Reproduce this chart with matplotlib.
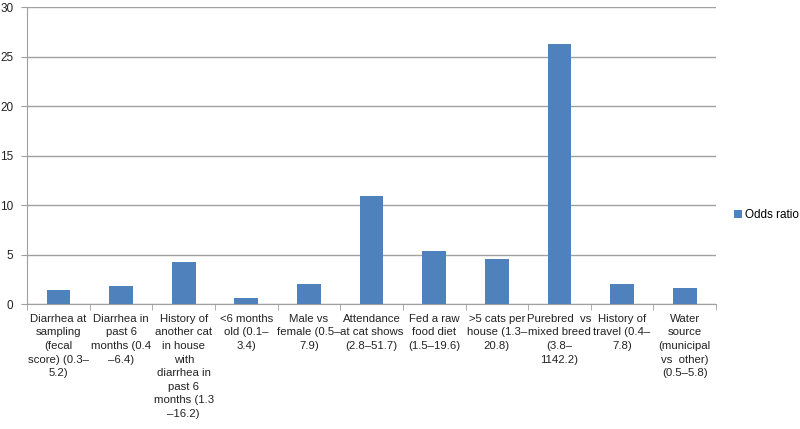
import matplotlib
matplotlib.use("Agg")
import matplotlib.pyplot as plt
import numpy as np

plt.rcParams["font.family"] = ["Liberation Sans", "DejaVu Sans"]

categories = [
    "Diarrhea at\nsampling\n(fecal\nscore) (0.3–\n5.2)",
    "Diarrhea in\npast 6\nmonths (0.4\n–6.4)",
    "History of\nanother cat\nin house\nwith\ndiarrhea in\npast 6\nmonths (1.3\n–16.2)",
    "<6 months\nold (0.1–\n3.4)",
    "Male vs\nfemale (0.5–\n7.9)",
    "Attendance\nat cat shows\n(2.8–51.7)",
    "Fed a raw\nfood diet\n(1.5–19.6)",
    ">5 cats per\nhouse (1.3–\n20.8)",
    "Purebred  vs\nmixed breed\n(3.8–\n1142.2)",
    "History of\ntravel (0.4–\n7.8)",
    "Water\nsource\n(municipal\nvs  other)\n(0.5–5.8)",
]
odds_ratio = [1.4, 1.8, 4.3, 0.6, 2.0, 10.9, 5.4, 4.6, 26.3, 2.0, 1.6]
yticks = [0, 5, 10, 15, 20, 25, 30]

fig = plt.figure(figsize=(8, 4.29), dpi=100)
ax = fig.add_axes([0.034, 0.291, 0.861, 0.692])
x = np.arange(len(categories))
ax.bar(x, odds_ratio, width=0.38, color="#4F81BD", label="Odds ratio", zorder=3)
ax.set_xlim(-0.5, len(categories) - 0.5)
ax.set_ylim(0, 30)
ax.set_yticks(yticks)
ax.yaxis.grid(True, color="#A0A0A0", linewidth=1.0, zorder=0)
for s in ["top", "right"]:
    ax.spines[s].set_visible(False)
for s in ["left", "bottom"]:
    ax.spines[s].set_color("#A0A0A0")
ax.set_xticks(x)
ax.set_xticklabels(categories, fontsize=8.2, color="#222222", linespacing=1.45, va="top")
ax.tick_params(axis="x", length=0, pad=7)
ax.set_xticks(np.arange(len(categories) + 1) - 0.5, minor=True)
ax.tick_params(axis="x", which="minor", length=4, color="#A0A0A0")
ax.tick_params(axis="y", length=4, color="#A0A0A0", labelsize=8.5, labelcolor="#222222", pad=6)
leg = ax.legend(loc="center left", bbox_to_anchor=(1.01, 0.30), frameon=False,
                fontsize=8.5, handlelength=0.7, handleheight=0.7, handletextpad=0.3)
fig.savefig("out.png", dpi=100)
